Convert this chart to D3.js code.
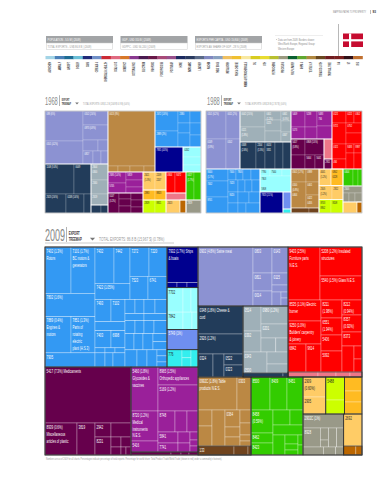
<!DOCTYPE html>
<html>
<head>
<meta charset="utf-8">
<script src="https://cdnjs.cloudflare.com/ajax/libs/d3/7.8.5/d3.min.js"></script>
<style>
  html, body { margin: 0; background: #fff; }
  svg { display: block; font-family: "Liberation Sans", sans-serif; }
</style>
</head>
<body>
<div id="chart"></div>
<script>
// header boxes
const statTitles = ["POPULATION - 5.5 M | (2009)", "GDP - USD 310 B | (2009)", "EXPORTS PER CAPITA - USD 15,800 | (2009)"];
const statLines = ["TOTAL EXPORTS - US$ 86.8 B | (2009)", "GDPPC - USD 56,240 | (2009)", "EXPORTS AS SHARE OF GDP - 28 % (2009)"];
const sideNotes = ["Data are from 2009. Borders shown:", "West/North Europe, Regional Group:", "Western Europe"];

// legend of product communities
const legendNames = ["AGROCHEM", "ANIMAL F", "AIRCRFT", "BOILER", "CARS", "CEREALS &", "CHEMICALS & HEALTH", "COAL & CO", "CONSTRCT", "COTTON & RICE", "ELECTRON", "FISH FOOD", "FOOD PROCESS", "FOOTWEAR", "HOME", "INORGANIC", "LEATHER", "MACHIN", "MEAT EGGS", "METALWORK", "MILK & CHEESE", "MINING & PETROCHEMICALS", "OIL", "OTH", "PETROCHEMS", "PRECIOUS S", "PULP & PAPER", "SHIPS &", "TEXTILE & F", "TOBACCO & OTH", "TROPICAL TREE", "GA", "ST", "VEG"];
const legendColors = ["#a3d4e6", "#4a80b8", "#1d6c94", "#6cc0d8", "#1f2a78", "#7090c8", "#cc2a35", "#e06a80", "#d87828", "#8a3a90", "#4a1a50", "#681848", "#a84a78", "#98508c", "#1c2a60", "#2a3a60", "#5a6a88", "#8088c0", "#88a0c0", "#f0c060", "#f0c030", "#f8e8a0", "#d8cc20", "#e8dc30", "#b8c030", "#9a9a80", "#0a6030", "#60a830", "#b08840", "#6a4820", "#701c20", "#7a2020", "#301018", "#c07030"];

const treeColors = {
  blue: "#3399f3", dark: "#00008f", cyan: "#99ffff", peri: "#6f8ff0", turq: "#33eeee",
  lav: "#8c92d2", navy: "#223c5a", grey: "#9fb0b8", maroon: "#66004c", purple: "#9a209a",
  brown: "#bb8844", dbrown: "#70441e", green: "#33cc00", orange: "#ffcc66", gold: "#ffbb22",
  lime: "#ccff00", khaki: "#999988", red: "#ff0000", pink: "#ee7788", dorange: "#bb6600"
};
const darkText = ["cyan", "turq", "orange", "gold", "lime"];

// nodes: [split, weight, colour, ...children], leaf: weight or [weight, label]
// weights are relative to the siblings
const y09Machinery = ["h", 122, "blue",
  ["v", 50, null,
    ["h", 46, null, [26, "7402 (1.3%)\nRotors"], [24, "7101 (1.7%)\nBC motors &\ngenerators"]],
    [23, "7802 (1.6%)"],
    ["h", 36, null, [26, "7889 (0.4%)\nEngines &\nmotors"], [24, "7851 (1.3%)\nParts of\nrotating\nelectric\nplant (H.S.3)"]],
    [14, "7905"]],
  ["v", 72, null,
    ["h", 52, null,
      ["v", 35, null, ["h", 36, null, [19, "7432"], [16, "7442"]], [16, "7422 (1.05%)"]],
      ["v", 37, null, ["h", 29, null, [19, "7272"], [18, "7220"]], ["h", 23, null, [18, "7523"], [19, "6741"]]]],
    ["h", 67, null,
      ["v", 30, null,
        ["h", 22, null, [16, "7493"], [14, "7102"]],
        9,
        ["h", 17, null, [16, "7403"], [14, "6998"]],
        ["h", 5, null, 10, 10, 10],
        ["h", 14, null, 10, 8, 12]],
      ["v", 42, null,
        ["h", 14, null, 10, 9, 11, 12],
        ["h", 7, null, 19, 23],
        ["h", 13, null, 10, 9, 10, 13],
        ["h", 16, null, 9, 9, 10, ["v", 14, null, 8, 8]],
        ["h", 17, null, 12, 10, 10, ["v", 10, null, 6, 6, 5]]]]]];

const y09Ships = ["v", 40, "dark", [35, "7932 (1.7%) Ships\n& boats"], ["h", 5, null, 10, 10, 11]];
const y09Cyan = ["v", 41, "cyan",
  ["h", 24, null, [16, "7702"], 8, 7],
  ["h", 17, null, [16, "7842"], 9, 6]];
const y09Peri = ["v", 20, "peri", [20, "5749 (1%)"]];
const y09Turq = ["h", 17, "turq", [15, "776"], ["v", 9, null, 8, 9], 7];

const y09Medicine = ["v", 86, "maroon",
  [56, "5417 (7.3%) Medicaments"],
  ["h", 32, null,
    [32, "8939 (0.6%)\nMiscellaneous\narticles of plastic"],
    [18, "3819"],
    ["v", 16, null, [14, "2942"], [18, "8231"]],
    ["v", 20, null, 14, ["h", 10, null, 10, 10], ["h", 8, null, 10, 5, 5]]]];

const y09Purple = ["h", 85, "purple",
  ["v", 27, null, [44, "5460 (1.8%)\nGlycosides &\nvaccines"], [30, "8720 (1.2%)\nMedical\ninstruments\nN.E.S."], [11, "5416"]],
  ["v", 40, null,
    [18, "8965 (1.5%)\nOrthopedic appliances"],
    [26, "5169 (1.2%)"],
    ["h", 21, null, [17, "8748"], 12, 11],
    ["h", 20, null,
      ["v", 20, null, [11, "5841"], [9, "7741"]],
      ["v", 12, null, 11, 9],
      ["v", 8, null, 8, 6, 6]]]];
const y09MaroonStrip = ["h", 3, "maroon", 40, 10, 8, 9];

const y09Lavender = ["h", 59, "lav",
  [55, "0902 (4.8%) Swine meat"],
  ["v", 19, null, [26, "0803"], [18, "0811"], [15, "0014"]],
  ["v", 16, null, [26, "0143"], [12, "0115"], 7, ["h", 14, null, 9, ["v", 7, null, 6, 8]]]];

const y09Navy = ["v", 45, "navy",
  [28, "0348 (1.8%) Cheese &\ncurd"],
  [20, "2926 (1.2%)"],
  ["h", 23, null, [15, "0324"], 11, ["v", 19, null, [11, "0522"], [12, "0323"]]]];

const y09Grey = ["v", 45, "grey",
  ["h", 46, null,
    ["v", 18, null, [25, "0514"], [21, "0392"]],
    ["v", 27, null, [18, "0980 (1.2%)"], [14, "0201"], ["h", 14, null, 11, 9]]],
  ["h", 21, null, [24, "0343\n\n0500"], ["v", 21, null, 12, 9]],
  ["h", 4, "navy", 40, 5]];

const y09Red = ["v", 74, "red",
  ["h", 53, null, [32, "9403 (2.5%)\nFurniture parts\nN.E.S."],
    ["v", 42, null, [29, "5208 (1.2%) Insulated\nstructures"], [24, "5540 (1.5%) Glass N.E.S."]]],
  ["h", 72, null,
    ["v", 33, null, [21, "8535 (1.1%) Electric\nburner"], [23, "9250 (1.0%)\nBuilders' carpentry\n& joinery"], ["h", 28, null, [18, "6842"], [15, "9614"]]],
    ["v", 21, null, [18, "8211\n(1.98%)"], [17, "6551\n(1.94%)"], ["v", 37, null, [16, "5406"], [21, "5092"]]],
    ["v", 20, null, [15, "8212\n(0.94%)"], [17, "8357\n(0.92%)"], [14, "8373"], ["h", 26, null, 12, ["v", 8, null, 13, 13]]]],
  ["h", 5, "pink", 30, 18, 14, 12]];

const y09Brown = ["v", 53, "brown",
  ["h", 33, null, [39, "0992C (1.8%) Table\nproducts N.E.S."], [14, "0303"]],
  ["h", 36, null, ["v", 14, null, 16, 20],
    ["v", 13, null, 34],
    ["v", 15, null, [17, "0364"], 10, 9],
    ["v", 11, null, 13, 12, 6, 5]],
  ["h", 9, "dbrown", [36, "133"], 14, 3]];

const y09Green = ["v", 52, "green",
  ["h", 33, null, [19, "8500"], [17, "8409"], [16, "8451"]],
  ["h", 45, null,
    ["v", 22, null, [23, "8458\n(0.59%)"], [10, "8462"], [12, "8423"]],
    ["v", 30, null,
      ["h", 15, null, 17, 13],
      ["h", 10, null, 30],
      ["h", 20, null, 12, ["v", 13, null, 9, 6, 5], ["v", 5, null, 10, 10]]]]];

const y09Orange = ["v", 22, "orange", [20, "2909\n(0.60%)"], [17, "2905"]];
const y09Lime = ["v", 18, "lime", [23, "5488"], 14];
const y09Gold = ["v", 17, "gold", 14, 11, 12];
const y09Khaki = ["v", 40, "khaki",
  [14, "2902C (1%)"],
  ["h", 19, null, [17, "8928"], ["v", 8, null, 12, 7], 8, 7],
  ["h", 8, null, 20, 12, 8]];
const y09LightOrange = ["v", 18, "orange", [32, "2692"], ["h", 9, "dorange", 12, 6]];

const map2009 = ["h", 1, null,
  ["v", 153, null,
    ["h", 120, null, y09Machinery, ["v", 31, null, y09Ships, y09Cyan, y09Peri, y09Turq]],
    ["h", 88, null, y09Medicine, ["v", 67, null, y09Purple, y09MaroonStrip]]],
  ["v", 164, null,
    ["h", 130, null,
      ["v", 90, null, y09Lavender, ["h", 71, null, y09Navy, y09Grey]],
      y09Red],
    ["h", 78, null,
      y09Brown,
      y09Green,
      ["v", 59, null,
        ["h", 37, null, y09Orange, y09Lime, y09Gold],
        ["h", 41, null, y09Khaki, y09LightOrange]]]]];

const map1968 = ["h", 1, null,
  ["v", 63, null,
    ["h", 53, "lav",
      ["v", 38, null, [30, "089 (6%)"], [23, "0101 (4.2%)"]],
      ["v", 25, null, [14, "0102 (2.6%)"], [15, "0973 (0.9%)"], ["h", 11, null, 15, 10], ["h", 13, null, [10, "0817"], 8, 7]]],
    ["h", 49, null,
      ["v", 46, "navy",
        ["h", 30, null, [29, "1108 (3.4%)"], [17, "0049"]],
        ["h", 19, null, [21, "2523 (2.6%)"], [18, "0248 (1.6%)"], 7]],
      ["v", 17, null,
        ["v", 41, "grey", [16, "2604\n0300"], [14, "2340"], [11, "2519"]],
        ["h", 8, "navy", 10, 7]]]],
  ["v", 93, null,
    ["h", 61, null,
      ["v", 47, "brown", [55, "0013 (8%)"], ["h", 6, null, 10, 12, 14, 11]],
      ["v", 46, null,
        ["h", 36, "blue",
          ["v", 23, null, [20, "2672 (1.8%)"], [16, "2889 (2%)"]],
          ["v", 12, null, [12, "2380"], 10, 14],
          ["v", 11, null, 12, 12, 12]],
        ["h", 25, null, ["v", 28, "dark", [25, "7931 (4.3%)"]], ["v", 18, "cyan", [10, "0262"], 8, 7]]]],
    ["h", 41, null,
      ["v", 35, null,
        ["h", 21, "purple", ["v", 18, null, [11, "2685 (1.4%)"], [10, "5745"]], ["v", 17, null, [8, "5819"], 7, 6]],
        ["h", 20, "maroon", [11, "5147\n(3.2%)"], ["v", 12, null, 6, 7, 7], ["v", 12, null, 7, 7, 6]]],
      ["v", 23, null,
        ["h", 18, "orange", [12, "2621\n(1.3%)"], [11, "2209\n2207"]],
        ["h", 10, "gold", [12, "2983"], [11, "8923"]],
        ["h", 13, "lime", [12, "2929"], [11, "8921"]]],
      ["v", 20, null,
        ["h", 21, "red", [9, "0944"], [11, "8472"]],
        ["h", 7, "pink", 20],
        ["h", 13, "orange", [14, "2613"], ["v", 6, "dorange", 13]]],
      ["v", 15, null,
        ["h", 28, "green", [8, "0417\n(1.7%)"], 7],
        ["h", 13, "khaki", [15, "2929"]]]]]];

const map1988 = ["v", 1, null,
  ["h", 58, null,
    ["h", 34, "lav",
      ["v", 20, null, [28, "0101 (6.2%)"], [30, "0149\n(3.9%)"]],
      ["v", 14, null, [28, "0011 (2%)"], [30, "0102"]]],
    ["v", 51, null,
      ["h", 31, "grey",
        ["v", 25, null, [16, "0042 (2.5%)"], [15, "0121\n(1.8%)"]],
        ["v", 16, null, [9, "0401\n(1.2%)"], [11, "0225"], 11],
        ["v", 10, null, [10, "0461\n(0.5%)"], 11, [10, "0347"]]],
      ["h", 27, "navy", [16, "0348\n(2.6%)"], [9, "2204\n(1.5%)"], [10, "0024\n3311"], 8, 8]],
    ["v", 41, null,
      ["h", 28, "purple", ["v", 14, null, [16, "5409"], [12, "5173"]], ["v", 12, null, [16, "5238"], 12], ["v", 15, null, [15, "5483\n756"], 13]],
      ["h", 30, null,
        ["h", 33, "maroon", ["v", 14, null, [16, "5417\n(3.8%)"], 14], ["v", 19, null, [16, "0908 (1.5%)"], ["h", 14, null, [10, "5064"], [9, "5041"]]]],
        ["v", 8, null, ["h", 20, "pink", 8], ["h", 10, "maroon", [8, "2911"]]]]],
    ["v", 30, "red",
      ["h", 12, null, [14, "0121"], [8, "0222"], [8, "0302"]],
      ["h", 21, null, [14, "8721"], ["v", 16, null, [10, "0752"], 11]],
      ["h", 25, null, ["v", 14, null, [15, "0321"], [10, "484"]], ["v", 8, null, [9, "8483"], 16], ["v", 8, null, [9, "8987"], 16]]]],
  ["h", 44, null,
    ["h", 54, "blue",
      ["v", 22, null, [12, "8400\n(1.7%)"], [16, "7402"], [16, "8701"]],
      ["v", 32, null,
        ["h", 11, null, [8, "7400"], [7, "7805"], 8, 9],
        ["h", 12, null, [10, "7423"], 7, 7, 8],
        ["h", 11, null, [10, "8420"], 11, 11],
        ["h", 10, null, 10, 8, 14]]],
    ["v", 31, null,
      ["v", 23, "cyan", ["h", 7, null, [10, "7780"], [12, "7540"], 9], [16, "7803\n\n5908"]],
      ["h", 21, null,
        ["v", 23, "dark", [21, "7923 (2.1%)"]],
        ["v", 8, null, ["h", 17, "peri", 8], ["h", 4, "turq", 8]]]],
    ["v", 28, "brown",
      ["h", 13, null, [15, "0501 (1.7%)"], [13, "0989"]],
      ["h", 26, null, [15, "0100\n(0.8%)\n0464"], ["v", 13, null, [13, "0401"], [13, "0422\n0455"]]],
      ["h", 5, "dbrown", 18, 10]],
    ["v", 24, null,
      ["h", 16, "orange", [12, "4001\n(1.2%)"], ["v", 12, "gold", [16, "0902\n0128"]]],
      ["h", 14, "orange", [13, "2505\n(1.2%)"], [11, "2922"]],
      ["h", 13, "lime", [12, "8703\n8902"], [12, "8108"]]],
    ["v", 19, null,
      ["h", 17, "green", [10, "0404"], 5, 4],
      ["v", 16, "khaki", [7, "2505"], ["h", 9, null, 6, 6, 7]],
      ["h", 11, "orange", 14, ["v", 5, "dorange", 11]]]]];

const footnote = "Numbers are as of 2009 for all charts. Percentages indicate percentage of total exports. Percentage for world share: Total Product Trade/World Trade (shown in red) under a commodity's footnote).";

const W = 387, H = 480;
const svg = d3.select("#chart").append("svg").attr("width", W).attr("height", H);

// condensed text like the print face
function addText(g, x, y, str, size, fill, weight, squeeze) {
  return g.append("text")
    .attr("transform", `translate(${x},${y}) scale(${squeeze || 0.55},1)`)
    .attr("font-size", size)
    .attr("font-weight", weight || "normal")
    .attr("fill", fill)
    .text(str);
}

// parse the nested lists and give every leaf its share of the map
function parse(d, share, color) {
  if (typeof d === "number") return { value: share, color, label: "" };
  if (typeof d[0] !== "string") return { value: share, color, label: d[1] || "" };
  const c = d[2] || color;
  const kids = d.slice(3);
  const total = d3.sum(kids, k => typeof k === "number" ? k : (typeof k[0] === "string" ? k[1] : k[0]));
  return {
    split: d[0], color: c,
    kids: kids.map(k => {
      const w = typeof k === "number" ? k : (typeof k[0] === "string" ? k[1] : k[0]);
      return parse(k, share * w / total, c);
    })
  };
}

const tile = (node, x0, y0, x1, y1) =>
  (node.data.split === "h" ? d3.treemapDice : d3.treemapSlice)(node, x0, y0, x1, y1);

function drawMap(tree, x, y, w, h, opt) {
  const root = d3.treemap().tile(tile).size([w, h])(
    d3.hierarchy(parse(tree, 100, null), d => d.kids).sum(d => d.kids ? 0 : d.value));
  const g = svg.append("g").attr("transform", `translate(${x},${y})`);

  g.selectAll("rect.leaf").data(root.leaves()).join("rect")
    .attr("class", "leaf")
    .attr("x", d => d.x0).attr("y", d => d.y0)
    .attr("width", d => d.x1 - d.x0).attr("height", d => d.y1 - d.y0)
    .attr("fill", d => treeColors[d.data.color])
    .attr("stroke", "#fff").attr("stroke-opacity", 0.55).attr("stroke-width", opt.line);

  // outline of each colour block
  const blocks = root.descendants().filter(d => d.data.color && (!d.parent || d.parent.data.color !== d.data.color));
  g.selectAll("rect.block").data(blocks).join("rect")
    .attr("class", "block")
    .attr("x", d => d.x0).attr("y", d => d.y0)
    .attr("width", d => d.x1 - d.x0).attr("height", d => d.y1 - d.y0)
    .attr("fill", "none")
    .attr("stroke", opt.edge).attr("stroke-width", opt.edgeWidth);

  root.leaves().filter(d => d.data.label).forEach(d => {
    const fill = darkText.includes(d.data.color) ? "#222" : "#fff";
    d.data.label.split("\n").forEach((line, i) => {
      addText(g, d.x0 + 1.5, d.y0 + opt.font + 0.5 + i * opt.lead, line, opt.font, fill, "normal", opt.squeeze);
    });
  });

  g.append("rect").attr("width", w).attr("height", h)
    .attr("fill", "none").attr("stroke", opt.frame).attr("stroke-width", opt.frameWidth);
}

function drawHeading(x, y, year, text, opt) {
  const g = svg.append("g");
  addText(g, x, y, year, opt.size, "#888", "normal", opt.yearSqueeze);
  g.append("line").attr("x1", x + opt.rule).attr("x2", x + opt.rule).attr("y1", y - opt.size * 0.85).attr("y2", y + 1)
    .attr("stroke", "#666").attr("stroke-width", 0.5);
  addText(g, x + opt.rule + 2.2, y - opt.tag * 1.25, "EXPORT", opt.tag, "#333", "bold", 0.56);
  addText(g, x + opt.rule + 2.2, y - opt.tag * 0.1, "TREEMAP", opt.tag, "#333", "bold", 0.56);
  const ts = opt.tag * 0.55, tx = x + opt.arrow, ty = y - ts - 0.6;
  g.append("path").attr("d", d3.line()([[tx - ts, ty], [tx + ts, ty], [tx, ty + ts]])).attr("fill", "#777");
  addText(g, x + opt.textAt, y - 0.2, text, opt.text, "#999", "normal", opt.textSqueeze);
  if (opt.under) g.append("line").attr("x1", x).attr("x2", x + opt.under).attr("y1", y + 2).attr("y2", y + 2)
    .attr("stroke", "#aaa").attr("stroke-width", 0.6);
}

// page mark
const head = svg.append("g");
addText(head, 333, 13, "MAPPING PATHS TO PROSPERITY", 3.8, "#888", "normal", 0.53);
head.append("line").attr("x1", 370.5).attr("x2", 370.5).attr("y1", 10).attr("y2", 14).attr("stroke", "#555").attr("stroke-width", 0.4);
addText(head, 372.5, 13, "93", 4, "#333", "bold", 0.8);

// stat boxes
const boxX = d3.scalePoint().domain(d3.range(3)).range([46, 195]);
statTitles.forEach((t, i) => {
  const x = boxX(i);
  head.append("rect").attr("x", x).attr("y", 36).attr("width", 67).attr("height", 7).attr("fill", "#a2a4a6");
  head.append("rect").attr("x", x + 0.3).attr("y", 43).attr("width", 66.4).attr("height", 6.7)
    .attr("fill", "#fff").attr("stroke", "#ccc").attr("stroke-width", 0.5);
  addText(head, x + 1.5, 41.3, t, 4.4, "#fff", "normal", 0.56);
  addText(head, x + 1.5, 48, statLines[i], 4.4, "#999", "normal", 0.56);
});

// side note
head.append("line").attr("x1", 275).attr("x2", 323).attr("y1", 35.5).attr("y2", 35.5).attr("stroke", "#ddd").attr("stroke-width", 0.5);
sideNotes.forEach((s, i) => addText(head, 278, 40.5 + i * 4.6, s, 3.8, "#888", "normal", 0.6));
head.append("circle").attr("cx", 276.5).attr("cy", 39.5).attr("r", 0.4).attr("fill", "#888");

// flag
head.append("line").attr("x1", 338.5).attr("x2", 338.5).attr("y1", 24).attr("y2", 56).attr("stroke", "#999").attr("stroke-width", 0.7);
head.append("rect").attr("x", 343).attr("y", 33.5).attr("width", 20).attr("height", 13.5).attr("fill", "#c60c30");
head.append("rect").attr("x", 349).attr("y", 33.5).attr("width", 2.2).attr("height", 13.5).attr("fill", "#fff");
head.append("rect").attr("x", 343).attr("y", 39.2).attr("width", 20).attr("height", 2.2).attr("fill", "#fff");

// legend strip
const legendX = d3.scaleBand().domain(legendNames).range([45.5, 362.5]);
svg.append("g").selectAll("rect").data(legendNames).join("rect")
  .attr("x", d => legendX(d)).attr("y", 56).attr("width", legendX.bandwidth() + 0.3).attr("height", 3.2)
  .attr("fill", (d, i) => legendColors[i]);
svg.append("g").selectAll("text").data(legendNames).join("text")
  .attr("transform", d => `translate(${legendX(d) + legendX.bandwidth() / 2 + 1.2},62) rotate(-90) scale(0.52,1)`)
  .attr("text-anchor", "end")
  .attr("font-size", 3.4).attr("fill", "#333").attr("font-weight", "bold")
  .text(d => d);

// the three treemaps
const smallHead = { size: 11.5, yearSqueeze: 0.5, rule: 14.5, tag: 3.4, arrow: 32, textAt: 38, text: 3.7, textSqueeze: 0.55 };
const bigHead = { size: 16.5, yearSqueeze: 0.55, rule: 21.5, tag: 4.8, arrow: 47.5, textAt: 54, text: 5.4, textSqueeze: 0.6, under: 129 };
drawHeading(45, 105, "1968", "TOTAL EXPORTS: US$ 1.2 B (2009 $ 6.9 B) (0.6%)", smallHead);
drawHeading(207, 105, "1988", "TOTAL EXPORTS: US$ 28 B (2,767 $) (0.6%)", smallHead);
drawHeading(45, 241, "2009", "TOTAL EXPORTS: 86.8 B (15,967 $) (0.78%)", bigHead);

const smallOpt = { font: 3.8, squeeze: 0.55, lead: 5, line: 0.35, edge: "#fff", edgeWidth: 0.5, frame: "#999", frameWidth: 0.5 };
drawMap(map1968, 45, 111, 156, 102, smallOpt);
drawMap(map1988, 206, 111, 156, 102, smallOpt);
drawMap(map2009, 45, 247, 317, 208, { font: 5.4, squeeze: 0.55, lead: 6.8, line: 0.5, edge: "#2a2a2a", edgeWidth: 0.7, frame: "#444", frameWidth: 0.8 });

addText(svg, 46, 460, footnote, 3.4, "#999", "normal", 0.6);
</script>
</body>
</html>
